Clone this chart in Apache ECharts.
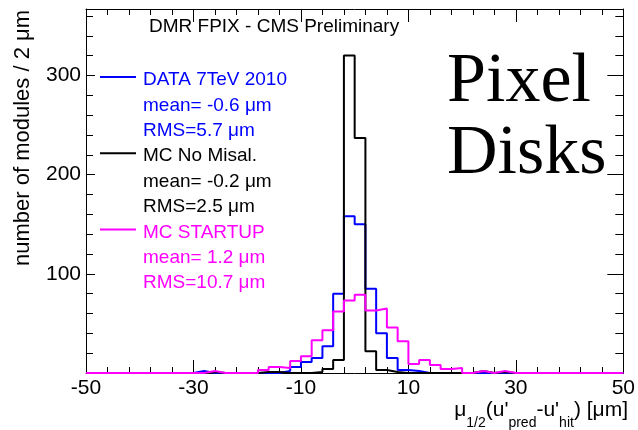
<!DOCTYPE html>
<html>
<head>
<meta charset="utf-8">
<script src="https://cdn.jsdelivr.net/npm/echarts@6/dist/echarts.min.js"></script>
<style>
  html, body { margin: 0; padding: 0; background: #fff; }
  #chart { width: 638px; height: 430px; }
</style>
</head>
<body>
<div id="chart"></div>
<script>
// Histogram binning: 2 µm bins from -50 to 50 µm
const binStart = -50;
const binWidth = 2;

// Number of modules per bin, bin i covers [binStart + 2i, binStart + 2i + 2)
const dataCounts = [
  0, 0, 0, 0, 0, 0, 0, 0, 0, 0,
  2, 0, 0, 0, 0, 0, 0, 0, 2, 6,
  11, 15, 27, 80, 158, 150, 85, 40, 15, 3,
  2, 0, 0, 0, 0, 0, 0, 0, 0, 0,
  0, 0, 0, 0, 0, 0, 0, 0, 0, 0
];
const noMisalCounts = [
  0, 0, 0, 0, 0, 0, 0, 0, 0, 0,
  0, 1, 0, 0, 0, 0, 1, 1, 0, 0,
  0, 1, 4, 13, 320, 237, 22, 3, 1, 0,
  0, 0, 0, 0, 0, 0, 2, 0, 1, 0,
  0, 0, 0, 0, 0, 0, 0, 0, 0, 0
];
const startupCounts = [
  0, 0, 0, 0, 0, 0, 0, 0, 0, 0,
  0, 2, 0, 0, 0, 0, 3, 6, 5, 12,
  17, 33, 43, 62, 73, 79, 63, 65, 46, 32,
  9, 13, 8, 4, 5, 0, 2, 0, 2, 0,
  0, 0, 0, 0, 0, 0, 0, 0, 0, 0
];

// Axis tick values
const xMajorTicks = [-50, -30, -10, 10, 30, 50];
const xMinorTicks = [-46, -42, -38, -34, -26, -22, -18, -14, -6, -2, 2, 6, 14, 18, 22, 26, 34, 38, 42, 46];
const yMajorTicks = [100, 200, 300];
const yMinorTicks = [20, 40, 60, 80, 120, 140, 160, 180, 220, 240, 260, 280, 320, 340, 360];
const yMax = 367;

// Legend entries: name, colour, statistics lines
const seriesNames = ['DATA 7TeV 2010', 'MC No Misal.', 'MC STARTUP'];
const seriesColors = ['#0000ff', '#000000', '#ff00ff'];
const statLines = [
  ['mean= -0.6 \u03bcm', 'RMS=5.7 \u03bcm'],
  ['mean= -0.2 \u03bcm', 'RMS=2.5 \u03bcm'],
  ['mean= 1.2 \u03bcm', 'RMS=10.7 \u03bcm']
];

const titleText = 'DMR FPIX - CMS Preliminary';
const yTitle = 'number of modules / 2 \u03bcm';
const labelLines = ['Pixel', 'Disks'];

const SANS = '"Liberation Sans", Arial, Helvetica, sans-serif';
const SERIF = '"Liberation Serif", "Times New Roman", serif';

// Turn bin counts into step-line points: one point per lower edge plus the last upper edge
function histPoints(counts) {
  const pts = counts.map((c, i) => [binStart + i * binWidth, c]);
  pts.push([binStart + counts.length * binWidth, counts[counts.length - 1]]);
  return pts;
}

const chart = echarts.init(document.getElementById('chart'), null, { renderer: 'canvas' });

function xAxisDef(position, ticks, len, withLabels, withLine) {
  return {
    type: 'value', position: position, min: -50, max: 50,
    axisLine: { show: withLine, onZero: false, lineStyle: { color: '#000', width: 1 } },
    axisTick: { show: true, inside: true, length: len, customValues: ticks, lineStyle: { color: '#000', width: 1 } },
    axisLabel: withLabels ? {
      show: true, customValues: ticks, fontSize: 21, color: '#000', fontFamily: SANS, margin: 5
    } : { show: false },
    splitLine: { show: false }
  };
}
function yAxisDef(position, ticks, len, withLabels, withLine) {
  return {
    type: 'value', position: position, min: 0, max: yMax,
    axisLine: { show: withLine, onZero: false, lineStyle: { color: '#000', width: 1 } },
    axisTick: { show: true, inside: true, length: len, customValues: ticks, lineStyle: { color: '#000', width: 1 } },
    axisLabel: withLabels ? {
      show: true, customValues: ticks, fontSize: 21, color: '#000', fontFamily: SANS, margin: 5
    } : { show: false },
    splitLine: { show: false }
  };
}

const series = [dataCounts, noMisalCounts, startupCounts].map((counts, k) => ({
  name: seriesNames[k],
  type: 'line',
  step: 'end',
  xAxisIndex: 0,
  yAxisIndex: 0,
  symbol: 'none',
  clip: false,
  z: 3 + k,
  lineStyle: { color: seriesColors[k], width: 2 },
  data: histPoints(counts)
}));

// Legend block drawn at the upper left of the frame
const legendGraphics = [];
const rowStep = 25.4;
seriesNames.forEach((name, k) => {
  const lineY = 77 + k * 3 * rowStep;
  legendGraphics.push({
    type: 'line', z: 10,
    shape: { x1: 100, y1: lineY, x2: 136, y2: lineY },
    style: { stroke: seriesColors[k], lineWidth: 2 }
  });
  [name].concat(statLines[k]).forEach((txt, j) => {
    legendGraphics.push({
      type: 'text', z: 10,
      x: 143, y: 80 + (k * 3 + j) * rowStep,
      style: { text: txt, fill: seriesColors[k], font: '19px ' + SANS, textVerticalAlign: 'middle' }
    });
  });
});

chart.setOption({
  animation: false,
  backgroundColor: '#fff',
  grid: { left: 86, right: 7, top: 9, bottom: 57, containLabel: false },
  xAxis: [
    xAxisDef('bottom', xMajorTicks, 13, true, true),
    xAxisDef('bottom', xMinorTicks, 6, false, false),
    xAxisDef('top', xMajorTicks, 13, false, true),
    xAxisDef('top', xMinorTicks, 6, false, false)
  ],
  yAxis: [
    yAxisDef('left', yMajorTicks, 9, true, true),
    yAxisDef('left', yMinorTicks, 7, false, false),
    yAxisDef('right', yMajorTicks, 16, false, true),
    yAxisDef('right', yMinorTicks, 8, false, false)
  ],
  series: series,
  graphic: legendGraphics.concat([
    {
      type: 'text', x: 149, y: 27,
      style: { text: titleText, fill: '#000', font: '19px ' + SANS, textVerticalAlign: 'middle' }
    },
    {
      type: 'text', x: 447, y: 83,
      style: { text: labelLines[0], fill: '#000', font: '70px ' + SERIF, textVerticalAlign: 'middle' }
    },
    {
      type: 'text', x: 447, y: 155,
      style: { text: labelLines[1], fill: '#000', font: '70px ' + SERIF, textVerticalAlign: 'middle' }
    },
    {
      type: 'text', x: 23, y: 138, rotation: Math.PI / 2,
      style: { text: yTitle, fill: '#000', font: '22px ' + SANS, textAlign: 'center', textVerticalAlign: 'middle' }
    },
    {
      // axis title with lowered subscripts: the subscript tokens sit at the bottom of a taller line box
      type: 'text', x: 628, y: 415,
      style: {
        text: '{m|\u03bc}{s|1/2}{m|(u\'}{s|pred}{m|-u\'}{s|hit}{m|) [\u03bcm]}',
        textAlign: 'right', textVerticalAlign: 'middle',
        rich: {
          m: { fontSize: 21, fontFamily: SANS, fill: '#000', lineHeight: 22, verticalAlign: 'top' },
          s: { fontSize: 14, fontFamily: SANS, fill: '#000', lineHeight: 31, verticalAlign: 'bottom' }
        }
      }
    }
  ])
});
</script>
</body>
</html>
